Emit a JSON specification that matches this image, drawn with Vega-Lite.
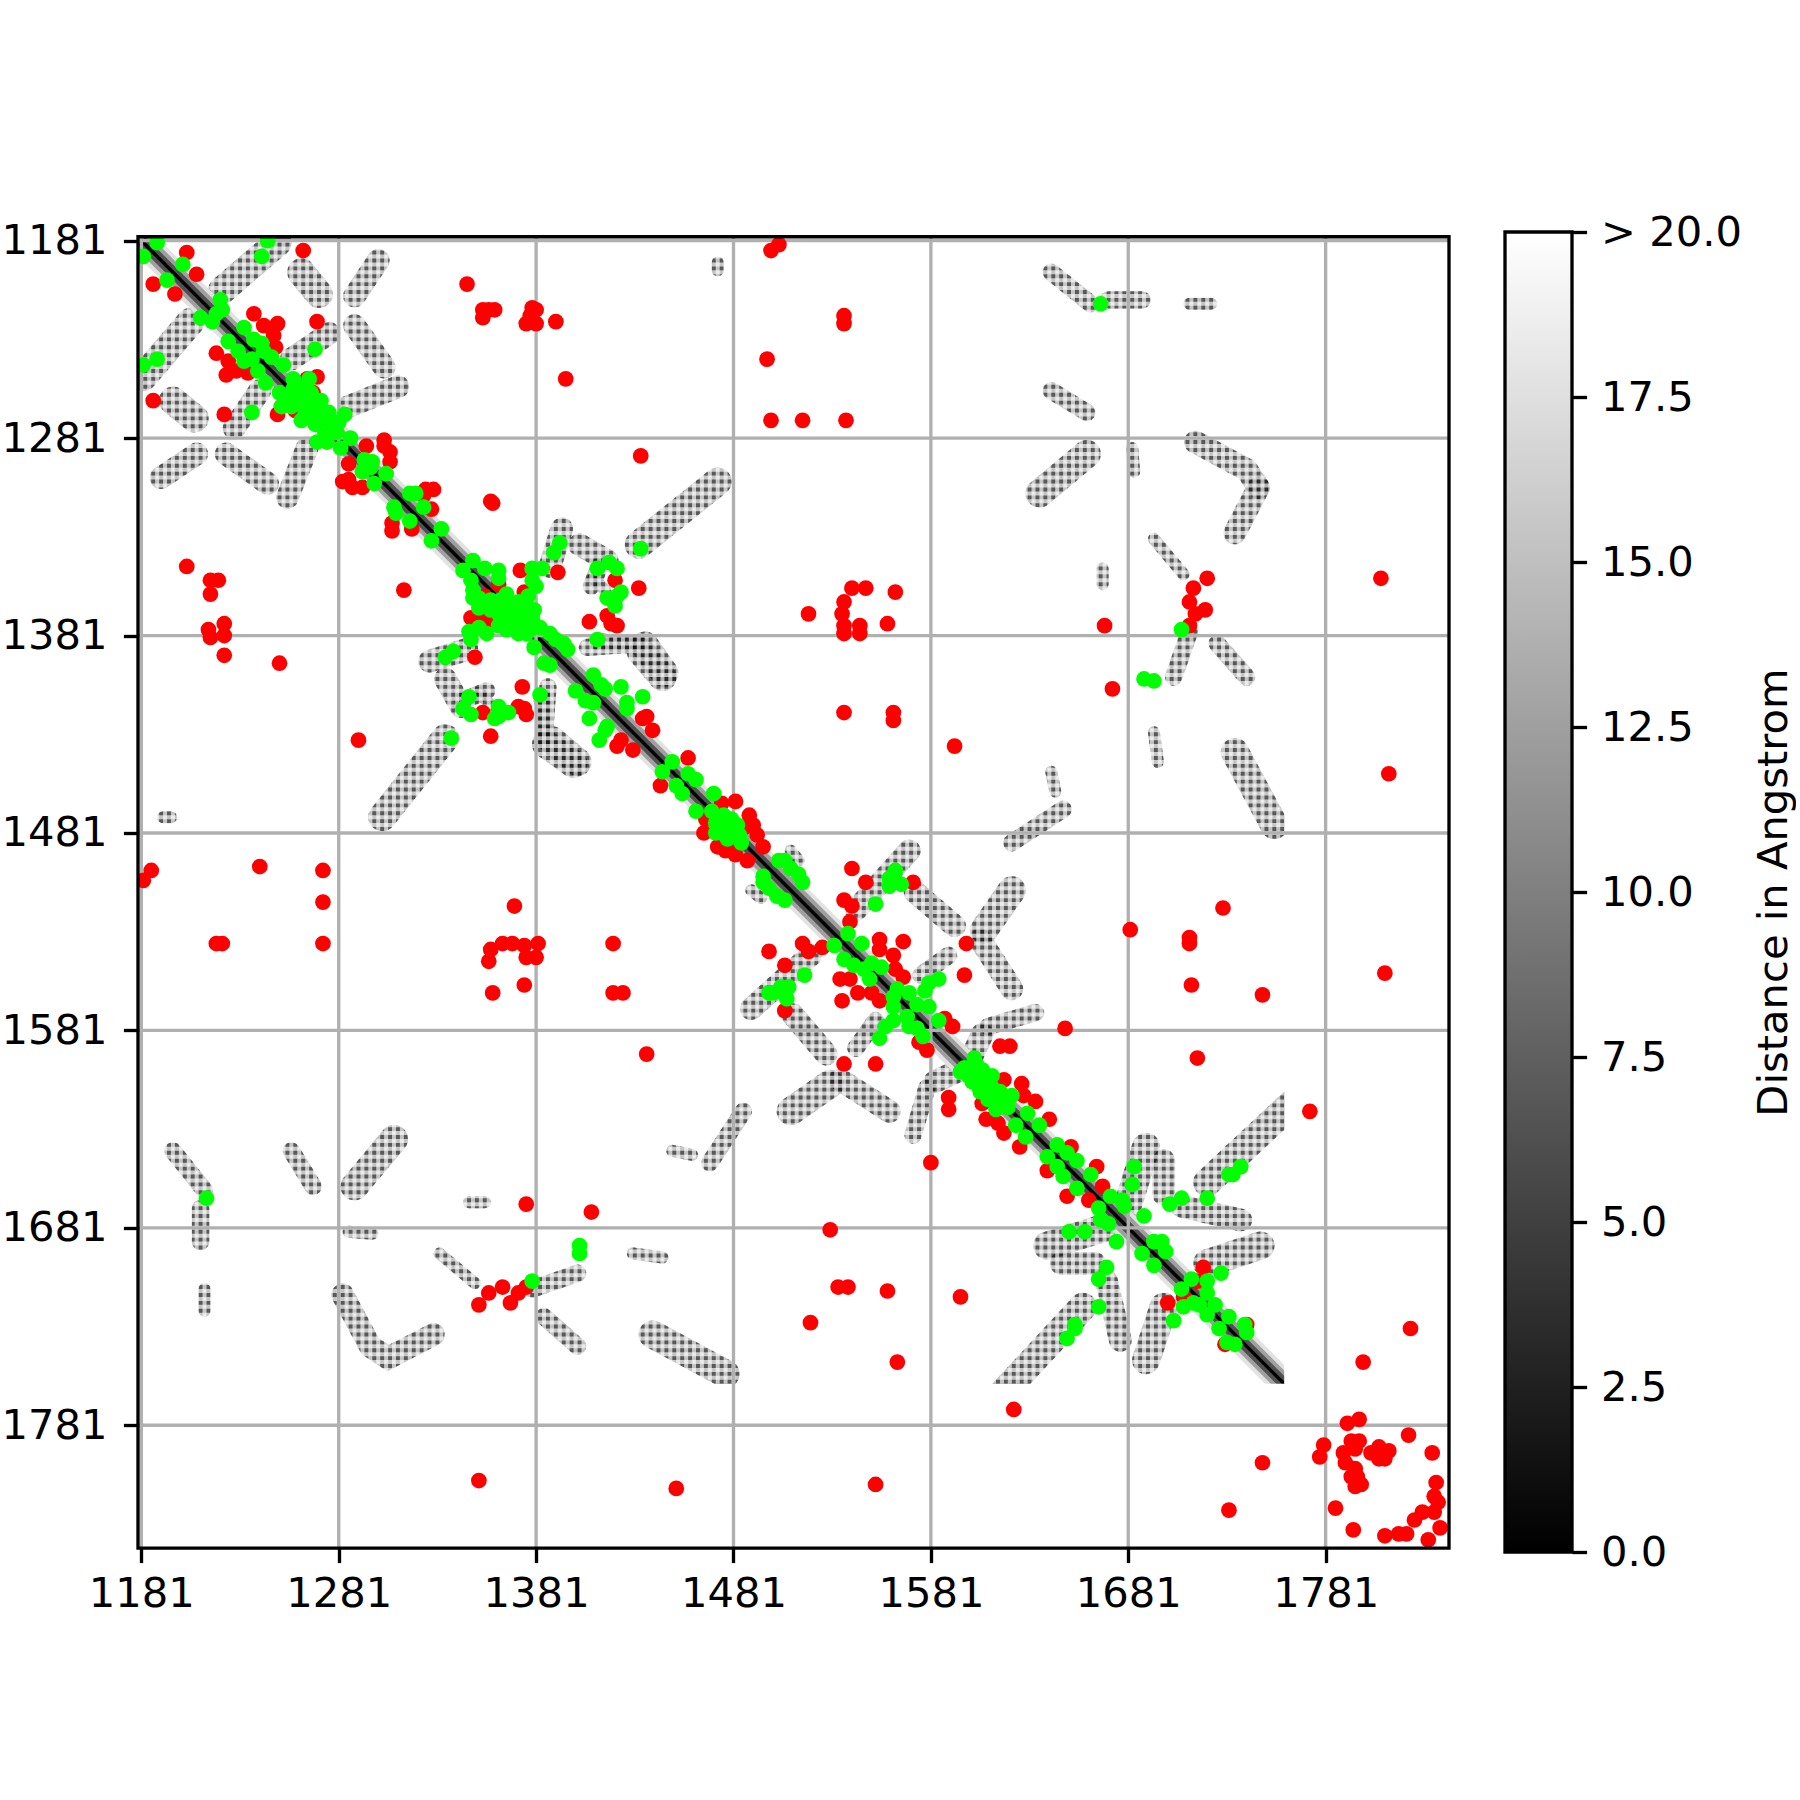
{"$schema":"https://vega.github.io/schema/vega-lite/v6.json","background":"white","padding":{"left":0,"top":212,"right":0,"bottom":0},"bounds":"flush","spacing":56,"config":{"font":"DejaVu Sans"},
"datasets":{
"diag":[{"x":1181,"y":1181},{"x":1772,"y":1772}],
"ticks":[{"t":1181},{"t":1281},{"t":1381},{"t":1481},{"t":1581},{"t":1681},{"t":1781}],
"hatch":[{"t":1181},{"t":1185},{"t":1189},{"t":1193},{"t":1197},{"t":1201},{"t":1205},{"t":1209},{"t":1213},{"t":1217},{"t":1221},{"t":1225},{"t":1229},{"t":1233},{"t":1237},{"t":1241},{"t":1245},{"t":1249},{"t":1253},{"t":1257},{"t":1261},{"t":1265},{"t":1269},{"t":1273},{"t":1277},{"t":1281},{"t":1285},{"t":1289},{"t":1293},{"t":1297},{"t":1301},{"t":1305},{"t":1309},{"t":1313},{"t":1317},{"t":1321},{"t":1325},{"t":1329},{"t":1333},{"t":1337},{"t":1341},{"t":1345},{"t":1349},{"t":1353},{"t":1357},{"t":1361},{"t":1365},{"t":1369},{"t":1373},{"t":1377},{"t":1381},{"t":1385},{"t":1389},{"t":1393},{"t":1397},{"t":1401},{"t":1405},{"t":1409},{"t":1413},{"t":1417},{"t":1421},{"t":1425},{"t":1429},{"t":1433},{"t":1437},{"t":1441},{"t":1445},{"t":1449},{"t":1453},{"t":1457},{"t":1461},{"t":1465},{"t":1469},{"t":1473},{"t":1477},{"t":1481},{"t":1485},{"t":1489},{"t":1493},{"t":1497},{"t":1501},{"t":1505},{"t":1509},{"t":1513},{"t":1517},{"t":1521},{"t":1525},{"t":1529},{"t":1533},{"t":1537},{"t":1541},{"t":1545},{"t":1549},{"t":1553},{"t":1557},{"t":1561},{"t":1565},{"t":1569},{"t":1573},{"t":1577},{"t":1581},{"t":1585},{"t":1589},{"t":1593},{"t":1597},{"t":1601},{"t":1605},{"t":1609},{"t":1613},{"t":1617},{"t":1621},{"t":1625},{"t":1629},{"t":1633},{"t":1637},{"t":1641},{"t":1645},{"t":1649},{"t":1653},{"t":1657},{"t":1661},{"t":1665},{"t":1669},{"t":1673},{"t":1677},{"t":1681},{"t":1685},{"t":1689},{"t":1693},{"t":1697},{"t":1701},{"t":1705},{"t":1709},{"t":1713},{"t":1717},{"t":1721},{"t":1725},{"t":1729},{"t":1733},{"t":1737},{"t":1741},{"t":1745},{"t":1749},{"t":1753},{"t":1757}],
"blobs":[
{"b":1,"w":"l","x":1250,"y":1182},{"b":1,"w":"l","x":1222,"y":1206},{"b":101,"w":"l","x":1182,"y":1250},{"b":101,"w":"l","x":1206,"y":1222},
{"b":3,"w":"l","x":1262,"y":1197},{"b":3,"w":"l","x":1271,"y":1208},{"b":103,"w":"l","x":1197,"y":1262},{"b":103,"w":"l","x":1208,"y":1271},
{"b":4,"w":"m","x":1301,"y":1191},{"b":4,"w":"m","x":1289,"y":1209},{"b":104,"w":"m","x":1191,"y":1301},{"b":104,"w":"m","x":1209,"y":1289},
{"b":5,"w":"m","x":1289,"y":1224},{"b":5,"w":"m","x":1304,"y":1245},{"b":105,"w":"m","x":1224,"y":1289},{"b":105,"w":"m","x":1245,"y":1304},
{"b":6,"w":"m","x":1276,"y":1228},{"b":6,"w":"m","x":1257,"y":1241},{"b":106,"w":"m","x":1228,"y":1276},{"b":106,"w":"m","x":1241,"y":1257},
{"b":7,"w":"m","x":1286,"y":1265},{"b":7,"w":"m","x":1311,"y":1255},{"b":107,"w":"m","x":1265,"y":1286},{"b":107,"w":"m","x":1255,"y":1311},
{"b":8,"w":"l","x":1473,"y":1303},{"b":8,"w":"l","x":1433,"y":1335},{"b":108,"w":"l","x":1303,"y":1473},{"b":108,"w":"l","x":1335,"y":1433},
{"b":9,"w":"m","x":1394,"y":1327},{"b":9,"w":"m","x":1388,"y":1346},{"b":109,"w":"m","x":1327,"y":1394},{"b":109,"w":"m","x":1346,"y":1388},
{"b":10,"w":"s","x":1414,"y":1344},{"b":10,"w":"s","x":1409,"y":1356},{"b":110,"w":"s","x":1344,"y":1414},{"b":110,"w":"s","x":1356,"y":1409},
{"b":11,"w":"m","x":1403,"y":1335},{"b":11,"w":"m","x":1417,"y":1343},{"b":111,"w":"m","x":1335,"y":1403},{"b":111,"w":"m","x":1343,"y":1417},
{"b":12,"w":"l","x":1436,"y":1386},{"b":12,"w":"l","x":1446,"y":1400},{"b":112,"w":"l","x":1386,"y":1436},{"b":112,"w":"l","x":1400,"y":1446},
{"b":13,"w":"s","x":1387,"y":1407},{"b":13,"w":"s","x":1385,"y":1433},{"b":113,"w":"s","x":1407,"y":1387},{"b":113,"w":"s","x":1433,"y":1385},
{"b":14,"w":"l","x":1389,"y":1434},{"b":14,"w":"l","x":1402,"y":1445},{"b":114,"w":"l","x":1434,"y":1389},{"b":114,"w":"l","x":1445,"y":1402},
{"b":15,"w":"xs","x":1410,"y":1352},{"b":15,"w":"xs","x":1416,"y":1358},{"b":115,"w":"xs","x":1352,"y":1410},{"b":115,"w":"xs","x":1358,"y":1416},
{"b":16,"w":"l","x":1660,"y":1289},{"b":16,"w":"l","x":1636,"y":1309},{"b":116,"w":"l","x":1289,"y":1660},{"b":116,"w":"l","x":1309,"y":1636},
{"b":17,"w":"s","x":1642,"y":1197},{"b":17,"w":"s","x":1662,"y":1213},{"b":117,"w":"s","x":1197,"y":1642},{"b":117,"w":"s","x":1213,"y":1662},
{"b":18,"w":"s","x":1671,"y":1211},{"b":18,"w":"s","x":1688,"y":1211},{"b":118,"w":"s","x":1211,"y":1671},{"b":118,"w":"s","x":1211,"y":1688},
{"b":19,"w":"s","x":1642,"y":1257},{"b":19,"w":"s","x":1660,"y":1268},{"b":119,"w":"s","x":1257,"y":1642},{"b":119,"w":"s","x":1268,"y":1660},
{"b":20,"w":"xs","x":1712,"y":1213},{"b":20,"w":"xs","x":1723,"y":1213},{"b":120,"w":"xs","x":1213,"y":1712},{"b":120,"w":"xs","x":1213,"y":1723},
{"b":21,"w":"m","x":1715,"y":1283},{"b":21,"w":"m","x":1741,"y":1297},{"b":21,"w":"m","x":1747,"y":1306},{"b":46,"w":"m","x":1747,"y":1306},{"b":46,"w":"m","x":1735,"y":1329},{"b":121,"w":"m","x":1283,"y":1715},{"b":121,"w":"m","x":1297,"y":1741},{"b":121,"w":"m","x":1306,"y":1747},{"b":121,"w":"m","x":1329,"y":1735},
{"b":22,"w":"xs","x":1683,"y":1286},{"b":22,"w":"xs","x":1684,"y":1298},{"b":122,"w":"xs","x":1286,"y":1683},{"b":122,"w":"xs","x":1298,"y":1684},
{"b":23,"w":"xs","x":1694,"y":1332},{"b":23,"w":"xs","x":1709,"y":1350},{"b":123,"w":"xs","x":1332,"y":1694},{"b":123,"w":"xs","x":1350,"y":1709},
{"b":24,"w":"xs","x":1668,"y":1347},{"b":24,"w":"xs","x":1668,"y":1355},{"b":124,"w":"xs","x":1347,"y":1668},{"b":124,"w":"xs","x":1355,"y":1668},
{"b":25,"w":"s","x":1704,"y":1402},{"b":25,"w":"s","x":1712,"y":1379},{"b":125,"w":"s","x":1402,"y":1704},{"b":125,"w":"s","x":1379,"y":1712},
{"b":26,"w":"s","x":1726,"y":1385},{"b":26,"w":"s","x":1741,"y":1402},{"b":126,"w":"s","x":1385,"y":1726},{"b":126,"w":"s","x":1402,"y":1741},
{"b":27,"w":"xs","x":1694,"y":1430},{"b":27,"w":"xs","x":1696,"y":1445},{"b":127,"w":"xs","x":1430,"y":1694},{"b":127,"w":"xs","x":1445,"y":1696},
{"b":28,"w":"l","x":1735,"y":1440},{"b":28,"w":"l","x":1755,"y":1477},{"b":128,"w":"l","x":1440,"y":1735},{"b":128,"w":"l","x":1477,"y":1755},
{"b":29,"w":"s","x":1622,"y":1486},{"b":29,"w":"s","x":1648,"y":1469},{"b":129,"w":"s","x":1486,"y":1622},{"b":129,"w":"s","x":1469,"y":1648},
{"b":30,"w":"xs","x":1642,"y":1450},{"b":30,"w":"xs","x":1644,"y":1460},{"b":130,"w":"xs","x":1450,"y":1642},{"b":130,"w":"xs","x":1460,"y":1644},
{"b":31,"w":"l","x":1622,"y":1510},{"b":31,"w":"l","x":1608,"y":1530},{"b":131,"w":"l","x":1510,"y":1622},{"b":131,"w":"l","x":1530,"y":1608},
{"b":32,"w":"s","x":1590,"y":1543},{"b":32,"w":"s","x":1576,"y":1553},{"b":132,"w":"s","x":1543,"y":1590},{"b":132,"w":"s","x":1553,"y":1576},
{"b":33,"w":"m","x":1606,"y":1535},{"b":33,"w":"m","x":1622,"y":1560},{"b":133,"w":"m","x":1535,"y":1606},{"b":133,"w":"m","x":1560,"y":1622},
{"b":34,"w":"s","x":1634,"y":1572},{"b":34,"w":"s","x":1610,"y":1579},{"b":134,"w":"s","x":1572,"y":1634},{"b":134,"w":"s","x":1579,"y":1610},
{"b":35,"w":"m","x":1573,"y":1511},{"b":35,"w":"m","x":1593,"y":1528},{"b":135,"w":"m","x":1511,"y":1573},{"b":135,"w":"m","x":1528,"y":1593},
{"b":36,"w":"m","x":1520,"y":1543},{"b":36,"w":"m","x":1490,"y":1570},{"b":136,"w":"m","x":1543,"y":1520},{"b":136,"w":"m","x":1570,"y":1490},
{"b":37,"w":"m","x":1583,"y":1607},{"b":37,"w":"m","x":1596,"y":1601},{"b":137,"w":"m","x":1607,"y":1583},{"b":137,"w":"m","x":1601,"y":1596},
{"b":39,"w":"l","x":1764,"y":1618},{"b":39,"w":"l","x":1721,"y":1658},{"b":139,"w":"l","x":1618,"y":1764},{"b":139,"w":"l","x":1658,"y":1721},
{"b":40,"w":"l","x":1690,"y":1640},{"b":40,"w":"l","x":1680,"y":1672},{"b":140,"w":"l","x":1640,"y":1690},{"b":140,"w":"l","x":1672,"y":1680},
{"b":41,"w":"m","x":1708,"y":1670},{"b":41,"w":"m","x":1738,"y":1677},{"b":141,"w":"m","x":1670,"y":1708},{"b":141,"w":"m","x":1677,"y":1738},
{"b":42,"w":"l","x":1721,"y":1699},{"b":42,"w":"l","x":1748,"y":1690},{"b":142,"w":"l","x":1699,"y":1721},{"b":142,"w":"l","x":1690,"y":1748},
{"b":43,"w":"m","x":1664,"y":1699},{"b":43,"w":"m","x":1647,"y":1699},{"b":143,"w":"m","x":1699,"y":1664},{"b":143,"w":"m","x":1699,"y":1647},
{"b":44,"w":"xs","x":1510,"y":1490},{"b":44,"w":"xs","x":1514,"y":1495},{"b":144,"w":"xs","x":1490,"y":1510},{"b":144,"w":"xs","x":1495,"y":1514},
{"b":45,"w":"xs","x":1192,"y":1473},{"b":45,"w":"xs","x":1196,"y":1473},{"b":145,"w":"xs","x":1473,"y":1192},{"b":145,"w":"xs","x":1473,"y":1196},
{"b":47,"w":"s","x":1412,"y":1384},{"b":47,"w":"s","x":1430,"y":1386},{"b":147,"w":"s","x":1384,"y":1412},{"b":147,"w":"s","x":1386,"y":1430}
],
"red":[{"x":1204,"y":1187},{"x":1209,"y":1198},{"x":1187,"y":1203},{"x":1198,"y":1208},{"x":1263,"y":1186},{"x":1346,"y":1203},{"x":1354,"y":1216},{"x":1354,"y":1220},{"x":1360,"y":1216},{"x":1357,"y":1216},{"x":1379,"y":1215},{"x":1381,"y":1216},{"x":1376,"y":1223},{"x":1381,"y":1223},{"x":1378,"y":1219},{"x":1391,"y":1222},{"x":1270,"y":1222},{"x":1396,"y":1251},{"x":1187,"y":1262},{"x":1223,"y":1269},{"x":1238,"y":1218},{"x":1243,"y":1224},{"x":1250,"y":1223},{"x":1248,"y":1229},{"x":1249,"y":1235},{"x":1219,"y":1238},{"x":1225,"y":1242},{"x":1224,"y":1249},{"x":1229,"y":1247},{"x":1235,"y":1248},{"x":1270,"y":1250},{"x":1265,"y":1251},{"x":1268,"y":1258},{"x":1250,"y":1269},{"x":1252,"y":1265},{"x":1259,"y":1267},{"x":1295,"y":1285},{"x":1304,"y":1282},{"x":1307,"y":1288},{"x":1304,"y":1285},{"x":1307,"y":1293},{"x":1286,"y":1294},{"x":1283,"y":1303},{"x":1288,"y":1306},{"x":1293,"y":1306},{"x":1286,"y":1302},{"x":1325,"y":1307},{"x":1329,"y":1307},{"x":1328,"y":1317},{"x":1324,"y":1310},{"x":1308,"y":1324},{"x":1308,"y":1328},{"x":1318,"y":1327},{"x":1359,"y":1314},{"x":1314,"y":1358},{"x":1204,"y":1346},{"x":1216,"y":1353},{"x":1220,"y":1353},{"x":1216,"y":1360},{"x":1215,"y":1378},{"x":1223,"y":1375},{"x":1216,"y":1382},{"x":1223,"y":1381},{"x":1223,"y":1391},{"x":1251,"y":1395},{"x":1350,"y":1392},{"x":1392,"y":1349},{"x":1373,"y":1348},{"x":1375,"y":1359},{"x":1355,"y":1361},{"x":1362,"y":1355},{"x":1348,"y":1372},{"x":1359,"y":1374},{"x":1355,"y":1372},{"x":1364,"y":1376},
{"x":1421,"y":1353},{"x":1433,"y":1357},{"x":1408,"y":1374},{"x":1419,"y":1375},{"x":1422,"y":1376},{"x":1417,"y":1371},{"x":1354,"y":1420},{"x":1358,"y":1432},{"x":1374,"y":1407},{"x":1375,"y":1418},{"x":1376,"y":1421},{"x":1372,"y":1417},{"x":1437,"y":1422},{"x":1435,"y":1423},{"x":1440,"y":1429},{"x":1422,"y":1437},{"x":1424,"y":1434},{"x":1430,"y":1439},{"x":1458,"y":1443},{"x":1444,"y":1457},{"x":1370,"y":1518},{"x":1519,"y":1370},{"x":1420,"y":1537},{"x":1537,"y":1420},{"x":1482,"y":1465},{"x":1475,"y":1466},{"x":1489,"y":1472},{"x":1491,"y":1477},{"x":1487,"y":1478},{"x":1493,"y":1482},{"x":1496,"y":1488},{"x":1466,"y":1481},{"x":1467,"y":1474},{"x":1473,"y":1488},{"x":1477,"y":1490},{"x":1479,"y":1486},{"x":1482,"y":1492},{"x":1488,"y":1495},
{"x":1500,"y":1186},{"x":1504,"y":1183},{"x":1537,"y":1219},{"x":1537,"y":1223},{"x":1498,"y":1241},{"x":1500,"y":1272},{"x":1516,"y":1272},{"x":1538,"y":1272},{"x":1434,"y":1290},{"x":1358,"y":1313},{"x":1182,"y":1505},{"x":1186,"y":1500},{"x":1241,"y":1498},{"x":1273,"y":1500},{"x":1273,"y":1516},{"x":1273,"y":1537},{"x":1219,"y":1537},{"x":1222,"y":1537},{"x":1420,"y":1562},{"x":1425,"y":1562},{"x":1437,"y":1593},{"x":1358,"y":1540},{"x":1357,"y":1546},{"x":1364,"y":1537},{"x":1369,"y":1537},{"x":1375,"y":1538},{"x":1382,"y":1537},{"x":1381,"y":1544},{"x":1376,"y":1544},{"x":1359,"y":1562},{"x":1375,"y":1558},{"x":1541,"y":1357},{"x":1548,"y":1357},{"x":1563,"y":1359},{"x":1537,"y":1364},{"x":1536,"y":1370},{"x":1559,"y":1375},{"x":1537,"y":1376},{"x":1545,"y":1376},{"x":1537,"y":1380},{"x":1545,"y":1380},{"x":1562,"y":1420},{"x":1562,"y":1424},{"x":1593,"y":1437},{"x":1291,"y":1434},
{"x":1813,"y":1451},{"x":1809,"y":1352},{"x":1811,"y":1552},{"x":1800,"y":1749},{"x":1824,"y":1732},{"x":1773,"y":1622},{"x":1749,"y":1563},{"x":1729,"y":1519},{"x":1682,"y":1530},{"x":1712,"y":1534},{"x":1712,"y":1537},{"x":1713,"y":1558},{"x":1716,"y":1595},{"x":1721,"y":1352},{"x":1714,"y":1357},{"x":1712,"y":1364},{"x":1720,"y":1368},{"x":1715,"y":1370},{"x":1712,"y":1376},{"x":1669,"y":1376},{"x":1673,"y":1408},{"x":1581,"y":1648},{"x":1376,"y":1669},{"x":1409,"y":1673},{"x":1352,"y":1720},{"x":1357,"y":1714},{"x":1364,"y":1711},{"x":1368,"y":1719},{"x":1372,"y":1714},{"x":1376,"y":1711},{"x":1530,"y":1682},{"x":1534,"y":1711},{"x":1539,"y":1711},{"x":1559,"y":1713},{"x":1596,"y":1716},{"x":1520,"y":1729},{"x":1564,"y":1749},{"x":1623,"y":1773},{"x":1352,"y":1809},{"x":1452,"y":1813},{"x":1553,"y":1811},{"x":1749,"y":1800},{"x":1732,"y":1824},
{"x":1792,"y":1780},{"x":1798,"y":1778},{"x":1780,"y":1791},{"x":1778,"y":1797},{"x":1823,"y":1786},{"x":1835,"y":1795},{"x":1837,"y":1810},{"x":1836,"y":1817},{"x":1794,"y":1789},{"x":1798,"y":1789},{"x":1790,"y":1795},{"x":1791,"y":1800},{"x":1796,"y":1793},{"x":1808,"y":1792},{"x":1804,"y":1795},{"x":1813,"y":1794},{"x":1811,"y":1798},{"x":1808,"y":1798},{"x":1796,"y":1803},{"x":1794,"y":1807},{"x":1799,"y":1811},{"x":1796,"y":1812},{"x":1797,"y":1807},{"x":1786,"y":1823},{"x":1795,"y":1834},{"x":1811,"y":1837},{"x":1818,"y":1836},{"x":1822,"y":1836},{"x":1826,"y":1829},{"x":1830,"y":1825},{"x":1833,"y":1839},{"x":1836,"y":1825},{"x":1838,"y":1820},{"x":1839,"y":1833},
{"x":1541,"y":1499},{"x":1548,"y":1506},{"x":1572,"y":1506},{"x":1537,"y":1515},{"x":1541,"y":1518},{"x":1540,"y":1526},{"x":1499,"y":1541},{"x":1516,"y":1537},{"x":1519,"y":1541},{"x":1526,"y":1539},{"x":1507,"y":1548},{"x":1555,"y":1535},{"x":1555,"y":1540},{"x":1567,"y":1536},{"x":1562,"y":1543},{"x":1563,"y":1550},{"x":1567,"y":1554},{"x":1599,"y":1537},{"x":1598,"y":1553},{"x":1535,"y":1555},{"x":1540,"y":1555},{"x":1544,"y":1562},{"x":1551,"y":1562},{"x":1555,"y":1566},{"x":1536,"y":1566},{"x":1507,"y":1571},{"x":1588,"y":1575},{"x":1592,"y":1579},{"x":1575,"y":1587},{"x":1579,"y":1591},{"x":1649,"y":1580},{"x":1616,"y":1589},{"x":1621,"y":1589},{"x":1537,"y":1598},{"x":1553,"y":1598},{"x":1590,"y":1615},{"x":1590,"y":1621},{"x":1607,"y":1618},{"x":1609,"y":1626},{"x":1615,"y":1628},{"x":1618,"y":1633},{"x":1626,"y":1640},{"x":1618,"y":1606},{"x":1627,"y":1608},{"x":1628,"y":1614},{"x":1634,"y":1617},{"x":1641,"y":1626},{"x":1652,"y":1640},{"x":1665,"y":1650},{"x":1668,"y":1660},{"x":1640,"y":1652},{"x":1650,"y":1665},{"x":1661,"y":1667},{"x":1719,"y":1701},{"x":1716,"y":1708},{"x":1701,"y":1719},{"x":1709,"y":1716},{"x":1741,"y":1730},{"x":1730,"y":1740}],
"green":[{"x":1189,"y":1182},{"x":1182,"y":1189},{"x":1202,"y":1193},{"x":1194,"y":1201},{"x":1245,"y":1181},{"x":1242,"y":1189},{"x":1189,"y":1241},{"x":1182,"y":1244},{"x":1269,"y":1236},{"x":1237,"y":1268},{"x":1221,"y":1211},{"x":1222,"y":1216},{"x":1211,"y":1220},{"x":1217,"y":1222},{"x":1219,"y":1218},{"x":1233,"y":1225},{"x":1238,"y":1231},{"x":1242,"y":1233},{"x":1247,"y":1240},{"x":1253,"y":1244},{"x":1243,"y":1237},{"x":1225,"y":1232},{"x":1230,"y":1237},{"x":1233,"y":1242},{"x":1240,"y":1247},{"x":1244,"y":1253},{"x":1237,"y":1241},{"x":1258,"y":1251},{"x":1251,"y":1258},{"x":1266,"y":1251},{"x":1252,"y":1265},{"x":1260,"y":1260},{"x":1266,"y":1263},{"x":1271,"y":1265},{"x":1264,"y":1268},{"x":1273,"y":1270},{"x":1269,"y":1274},{"x":1284,"y":1269},{"x":1277,"y":1273},{"x":1274,"y":1278},{"x":1270,"y":1283},{"x":1260,"y":1255},{"x":1255,"y":1260},{"x":1257,"y":1265},{"x":1267,"y":1258},{"x":1281,"y":1273},{"x":1262,"y":1262},{"x":1258,"y":1256},{"x":1264,"y":1257},{"x":1268,"y":1270},{"x":1262,"y":1272},{"x":1272,"y":1262},{"x":1276,"y":1268},{"x":1280,"y":1278},{"x":1275,"y":1283},{"x":1287,"y":1281},{"x":1282,"y":1286},{"x":1294,"y":1292},{"x":1298,"y":1293},{"x":1305,"y":1299},{"x":1293,"y":1298},{"x":1299,"y":1304},{"x":1297,"y":1296},{"x":1317,"y":1309},{"x":1320,"y":1309},{"x":1309,"y":1316},{"x":1310,"y":1319},{"x":1324,"y":1316},{"x":1317,"y":1323},{"x":1333,"y":1327},{"x":1328,"y":1333},{"x":1393,"y":1334},{"x":1390,"y":1339},{"x":1339,"y":1389},{"x":1335,"y":1392},
{"x":1349,"y":1343},{"x":1344,"y":1348},{"x":1355,"y":1347},{"x":1362,"y":1348},{"x":1362,"y":1352},{"x":1348,"y":1353},{"x":1349,"y":1362},{"x":1352,"y":1362},{"x":1379,"y":1347},{"x":1384,"y":1347},{"x":1379,"y":1353},{"x":1381,"y":1356},{"x":1377,"y":1361},{"x":1372,"y":1368},{"x":1363,"y":1363},{"x":1368,"y":1371},{"x":1375,"y":1369},{"x":1380,"y":1375},{"x":1376,"y":1380},{"x":1370,"y":1376},{"x":1373,"y":1373},{"x":1365,"y":1366},{"x":1358,"y":1363},{"x":1347,"y":1379},{"x":1352,"y":1377},{"x":1356,"y":1380},{"x":1348,"y":1383},{"x":1378,"y":1378},{"x":1349,"y":1358},{"x":1352,"y":1367},{"x":1358,"y":1368},{"x":1362,"y":1370},{"x":1366,"y":1373},{"x":1370,"y":1366},{"x":1366,"y":1360},{"x":1372,"y":1364},{"x":1376,"y":1366},{"x":1380,"y":1368},{"x":1379,"y":1372},{"x":1383,"y":1377},{"x":1372,"y":1380},{"x":1366,"y":1378},{"x":1362,"y":1376},{"x":1370,"y":1372},{"x":1434,"y":1337},{"x":1338,"y":1433},{"x":1412,"y":1347},{"x":1418,"y":1344},{"x":1422,"y":1347},{"x":1424,"y":1359},{"x":1417,"y":1362},{"x":1421,"y":1366},{"x":1422,"y":1361},{"x":1347,"y":1412},{"x":1344,"y":1418},{"x":1348,"y":1421},{"x":1360,"y":1423},{"x":1362,"y":1417},{"x":1367,"y":1420},{"x":1362,"y":1422},{"x":1388,"y":1380},{"x":1395,"y":1385},{"x":1397,"y":1388},{"x":1380,"y":1387},{"x":1385,"y":1395},{"x":1388,"y":1396},{"x":1391,"y":1383},{"x":1412,"y":1383},{"x":1383,"y":1411},{"x":1410,"y":1401},{"x":1414,"y":1406},{"x":1401,"y":1409},{"x":1406,"y":1414},{"x":1416,"y":1408},{"x":1410,"y":1415},{"x":1424,"y":1407},{"x":1435,"y":1412},{"x":1427,"y":1415},{"x":1427,"y":1418},{"x":1408,"y":1423},{"x":1413,"y":1434},{"x":1417,"y":1427},{"x":1416,"y":1429},{"x":1450,"y":1445},{"x":1445,"y":1450},{"x":1458,"y":1451},{"x":1462,"y":1454},{"x":1452,"y":1457},{"x":1455,"y":1461},{"x":1471,"y":1461},{"x":1462,"y":1470},{"x":1475,"y":1474},{"x":1478,"y":1476},{"x":1481,"y":1481},{"x":1485,"y":1486},{"x":1472,"y":1481},{"x":1470,"y":1470},{"x":1483,"y":1477},{"x":1475,"y":1481},{"x":1472,"y":1476},{"x":1476,"y":1472},{"x":1480,"y":1474},{"x":1474,"y":1480},{"x":1480,"y":1480},{"x":1484,"y":1482},{"x":1478,"y":1484},{"x":1504,"y":1495},{"x":1507,"y":1495},{"x":1514,"y":1502},{"x":1516,"y":1506},{"x":1510,"y":1499},{"x":1496,"y":1503},{"x":1496,"y":1506},{"x":1503,"y":1513},{"x":1507,"y":1515},{"x":1499,"y":1509},
{"x":1563,"y":1500},{"x":1560,"y":1504},{"x":1566,"y":1507},{"x":1560,"y":1508},{"x":1563,"y":1505},{"x":1553,"y":1517},{"x":1501,"y":1562},{"x":1505,"y":1559},{"x":1508,"y":1565},{"x":1509,"y":1559},{"x":1506,"y":1562},{"x":1499,"y":1562},{"x":1517,"y":1553},{"x":1539,"y":1532},{"x":1546,"y":1537},{"x":1532,"y":1538},{"x":1537,"y":1545},{"x":1551,"y":1547},{"x":1556,"y":1549},{"x":1547,"y":1550},{"x":1550,"y":1555},{"x":1542,"y":1548},{"x":1585,"y":1555},{"x":1580,"y":1557},{"x":1578,"y":1561},{"x":1570,"y":1562},{"x":1564,"y":1560},{"x":1562,"y":1564},{"x":1562,"y":1569},{"x":1574,"y":1568},{"x":1580,"y":1569},{"x":1585,"y":1576},{"x":1569,"y":1574},{"x":1570,"y":1579},{"x":1577,"y":1584},{"x":1574,"y":1580},{"x":1555,"y":1585},{"x":1558,"y":1579},{"x":1562,"y":1576},{"x":1603,"y":1595},{"x":1607,"y":1601},{"x":1596,"y":1602},{"x":1602,"y":1607},{"x":1610,"y":1607},{"x":1614,"y":1616},{"x":1608,"y":1611},{"x":1617,"y":1619},{"x":1622,"y":1614},{"x":1614,"y":1621},{"x":1598,"y":1600},{"x":1604,"y":1598},{"x":1606,"y":1604},{"x":1612,"y":1610},{"x":1608,"y":1606},{"x":1612,"y":1604},{"x":1616,"y":1612},{"x":1618,"y":1616},{"x":1606,"y":1612},{"x":1610,"y":1616},{"x":1620,"y":1620},{"x":1630,"y":1623},{"x":1624,"y":1629},{"x":1629,"y":1635},{"x":1636,"y":1629},{"x":1600,"y":1604},{"x":1605,"y":1609},{"x":1611,"y":1612},{"x":1645,"y":1639},{"x":1655,"y":1647},{"x":1662,"y":1654},{"x":1650,"y":1643},{"x":1640,"y":1645},{"x":1648,"y":1655},{"x":1655,"y":1661},{"x":1645,"y":1650},{"x":1672,"y":1665},{"x":1678,"y":1667},{"x":1679,"y":1670},{"x":1666,"y":1671},{"x":1667,"y":1677},{"x":1671,"y":1679},{"x":1684,"y":1650},{"x":1683,"y":1659},{"x":1651,"y":1683},{"x":1659,"y":1683},{"x":1689,"y":1675},{"x":1675,"y":1688},{"x":1702,"y":1669},{"x":1708,"y":1666},{"x":1721,"y":1666},{"x":1732,"y":1654},{"x":1734,"y":1654},{"x":1738,"y":1650},{"x":1666,"y":1707},{"x":1670,"y":1701},{"x":1666,"y":1721},{"x":1654,"y":1730},{"x":1650,"y":1737},{"x":1654,"y":1732},{"x":1694,"y":1688},{"x":1700,"y":1693},{"x":1688,"y":1694},{"x":1694,"y":1700},{"x":1698,"y":1688},{"x":1728,"y":1704},{"x":1713,"y":1707},{"x":1708,"y":1712},{"x":1721,"y":1708},{"x":1721,"y":1714},{"x":1717,"y":1720},{"x":1709,"y":1721},{"x":1704,"y":1728},{"x":1721,"y":1725},{"x":1725,"y":1720},{"x":1714,"y":1719},{"x":1732,"y":1726},{"x":1740,"y":1730},{"x":1741,"y":1734},{"x":1727,"y":1732},{"x":1731,"y":1739},{"x":1735,"y":1740},{"x":1214,"y":1666},{"x":1667,"y":1213},{"x":1403,"y":1690},{"x":1403,"y":1694},{"x":1689,"y":1403},{"x":1694,"y":1404},{"x":1379,"y":1708},{"x":1708,"y":1378}],
"bar":[{"lo":0,"hi":20}]
},
"hconcat":[
{"width":1311,"height":1320,"view":{"stroke":null},"layer":[
{"data":{"name":"blobs"},"mark":{"type":"line","color":"#aaaaaa","opacity":0.35,"strokeCap":"round","clip":true},"encoding":{"x":{"field":"x","type":"quantitative","scale":{"domain":[1179.3,1843.5],"nice":false,"zero":false},"axis":{"values":[1181,1281,1381,1481,1581,1681,1781],"format":"d","grid":false,"title":null,"domain":false,"offset":-4,"labelFontSize":41.67,"labelFont":"DejaVu Sans","labelColor":"black","tickSize":14.6,"tickWidth":3.33,"tickColor":"black","labelPadding":11,"labelFlush":false,"labelOverlap":false}},"y":{"field":"y","type":"quantitative","scale":{"domain":[1176.6,1845.2],"nice":false,"zero":false,"reverse":true},"axis":{"values":[1181,1281,1381,1481,1581,1681,1781],"format":"d","grid":false,"title":null,"domain":false,"labelFontSize":41.67,"labelFont":"DejaVu Sans","labelColor":"black","tickSize":14.6,"tickWidth":3.33,"tickColor":"black","labelPadding":16.4,"labelOverlap":false}},"detail":{"field":"b"},"strokeWidth":{"field":"w","type":"ordinal","scale":{"domain":["xs","s","m","l"],"range":[12,28,38,46]},"legend":null}}},
{"data":{"name":"blobs"},"mark":{"type":"line","color":"#777777","opacity":0.45,"strokeCap":"round","clip":true},"encoding":{"x":{"field":"x","type":"quantitative"},"y":{"field":"y","type":"quantitative"},"detail":{"field":"b"},"strokeWidth":{"field":"w","type":"ordinal","scale":{"domain":["xs","s","m","l"],"range":[8,18,26,32]},"legend":null}}},
{"data":{"name":"blobs"},"mark":{"type":"line","color":"#111111","opacity":0.55,"strokeCap":"round","clip":true},"encoding":{"x":{"field":"x","type":"quantitative"},"y":{"field":"y","type":"quantitative"},"detail":{"field":"b"},"strokeWidth":{"field":"w","type":"ordinal","scale":{"domain":["xs","s","m","l"],"range":[3,8,12,16]},"legend":null}}},
{"data":{"name":"hatch"},"mark":{"type":"rule","color":"white","strokeWidth":4,"opacity":0.65},"encoding":{"x":{"field":"t","type":"quantitative"},"y":{"datum":1181,"type":"quantitative"},"y2":{"datum":1760}}},
{"data":{"name":"hatch"},"mark":{"type":"rule","color":"white","strokeWidth":4,"opacity":0.65},"encoding":{"y":{"field":"t","type":"quantitative"},"x":{"datum":1181,"type":"quantitative"},"x2":{"datum":1760}}},
{"data":{"name":"diag"},"mark":{"type":"line","color":"#e2e2e2","strokeWidth":27,"clip":true},"encoding":{"x":{"field":"x","type":"quantitative"},"y":{"field":"y","type":"quantitative"}}},
{"data":{"name":"diag"},"mark":{"type":"line","color":"#a0a0a0","strokeWidth":19,"clip":true},"encoding":{"x":{"field":"x","type":"quantitative"},"y":{"field":"y","type":"quantitative"}}},
{"data":{"name":"diag"},"mark":{"type":"line","color":"#505050","strokeWidth":11,"clip":true},"encoding":{"x":{"field":"x","type":"quantitative"},"y":{"field":"y","type":"quantitative"}}},
{"data":{"name":"diag"},"mark":{"type":"line","color":"#000000","strokeWidth":3.5,"clip":true},"encoding":{"x":{"field":"x","type":"quantitative"},"y":{"field":"y","type":"quantitative"}}},
{"data":{"values":[{"a":1760,"b":1842,"c":1179,"d":1842},{"a":1179.3,"b":1842,"c":1760,"d":1842}]},"mark":{"type":"rect","color":"white","opacity":1},"encoding":{"x":{"field":"a","type":"quantitative"},"x2":{"field":"b"},"y":{"field":"c","type":"quantitative"},"y2":{"field":"d"}}},
{"data":{"name":"ticks"},"mark":{"type":"rule","color":"#b0b0b0","strokeWidth":3.33},"encoding":{"x":{"field":"t","type":"quantitative"},"y":{"datum":1179,"type":"quantitative"},"y2":{"datum":1843.2}}},
{"data":{"name":"ticks"},"mark":{"type":"rule","color":"#b0b0b0","strokeWidth":3.33},"encoding":{"y":{"field":"t","type":"quantitative"},"x":{"datum":1179.3,"type":"quantitative"},"x2":{"datum":1843.5}}},
{"data":{"name":"red"},"mark":{"type":"circle","color":"#ff0000","opacity":1,"size":247,"clip":true},"encoding":{"x":{"field":"x","type":"quantitative"},"y":{"field":"y","type":"quantitative"}}},
{"data":{"name":"green"},"mark":{"type":"circle","color":"#00ff00","opacity":1,"size":247,"clip":true},"encoding":{"x":{"field":"x","type":"quantitative"},"y":{"field":"y","type":"quantitative"}}},
{"data":{"values":[{"a":1179.3,"b":1843.5,"c":1176.6,"d":1179}]},"mark":{"type":"rect","color":"white","opacity":1},"encoding":{"x":{"field":"a","type":"quantitative"},"x2":{"field":"b"},"y":{"field":"c","type":"quantitative"},"y2":{"field":"d"}}},
{"data":{"values":[{"a":1179.3,"b":1843.5,"c":1179,"d":1843.2}]},"mark":{"type":"rect","fillOpacity":0,"stroke":"black","strokeWidth":3.33},"encoding":{"x":{"field":"a","type":"quantitative"},"x2":{"field":"b"},"y":{"field":"c","type":"quantitative"},"y2":{"field":"d"}}}
]},
{"width":67,"height":1320,"view":{"stroke":null},"data":{"name":"bar"},"mark":{"type":"rect","stroke":"black","strokeWidth":3.33,"color":{"gradient":"linear","x1":0,"y1":1,"x2":0,"y2":0,"stops":[{"offset":0,"color":"#000000"},{"offset":1,"color":"#ffffff"}]}},"encoding":{"y":{"field":"lo","type":"quantitative","scale":{"domain":[0,20],"nice":false,"zero":false},"axis":{"orient":"right","values":[0,2.5,5,7.5,10,12.5,15,17.5,20],"labelExpr":"datum.value == 20 ? '> 20.0' : format(datum.value, '.1f')","grid":false,"domain":false,"title":"Distance in Angstrom","titleFontSize":41.67,"titleFont":"DejaVu Sans","titleFontWeight":"normal","titleColor":"black","titleAngle":270,"titlePadding":54,"labelFontSize":41.67,"labelFont":"DejaVu Sans","labelColor":"black","tickSize":14.6,"tickWidth":3.33,"tickColor":"black","labelPadding":14,"labelOverlap":false,"labelBound":false,"labelFlush":false}},"y2":{"field":"hi"}}}
]}
